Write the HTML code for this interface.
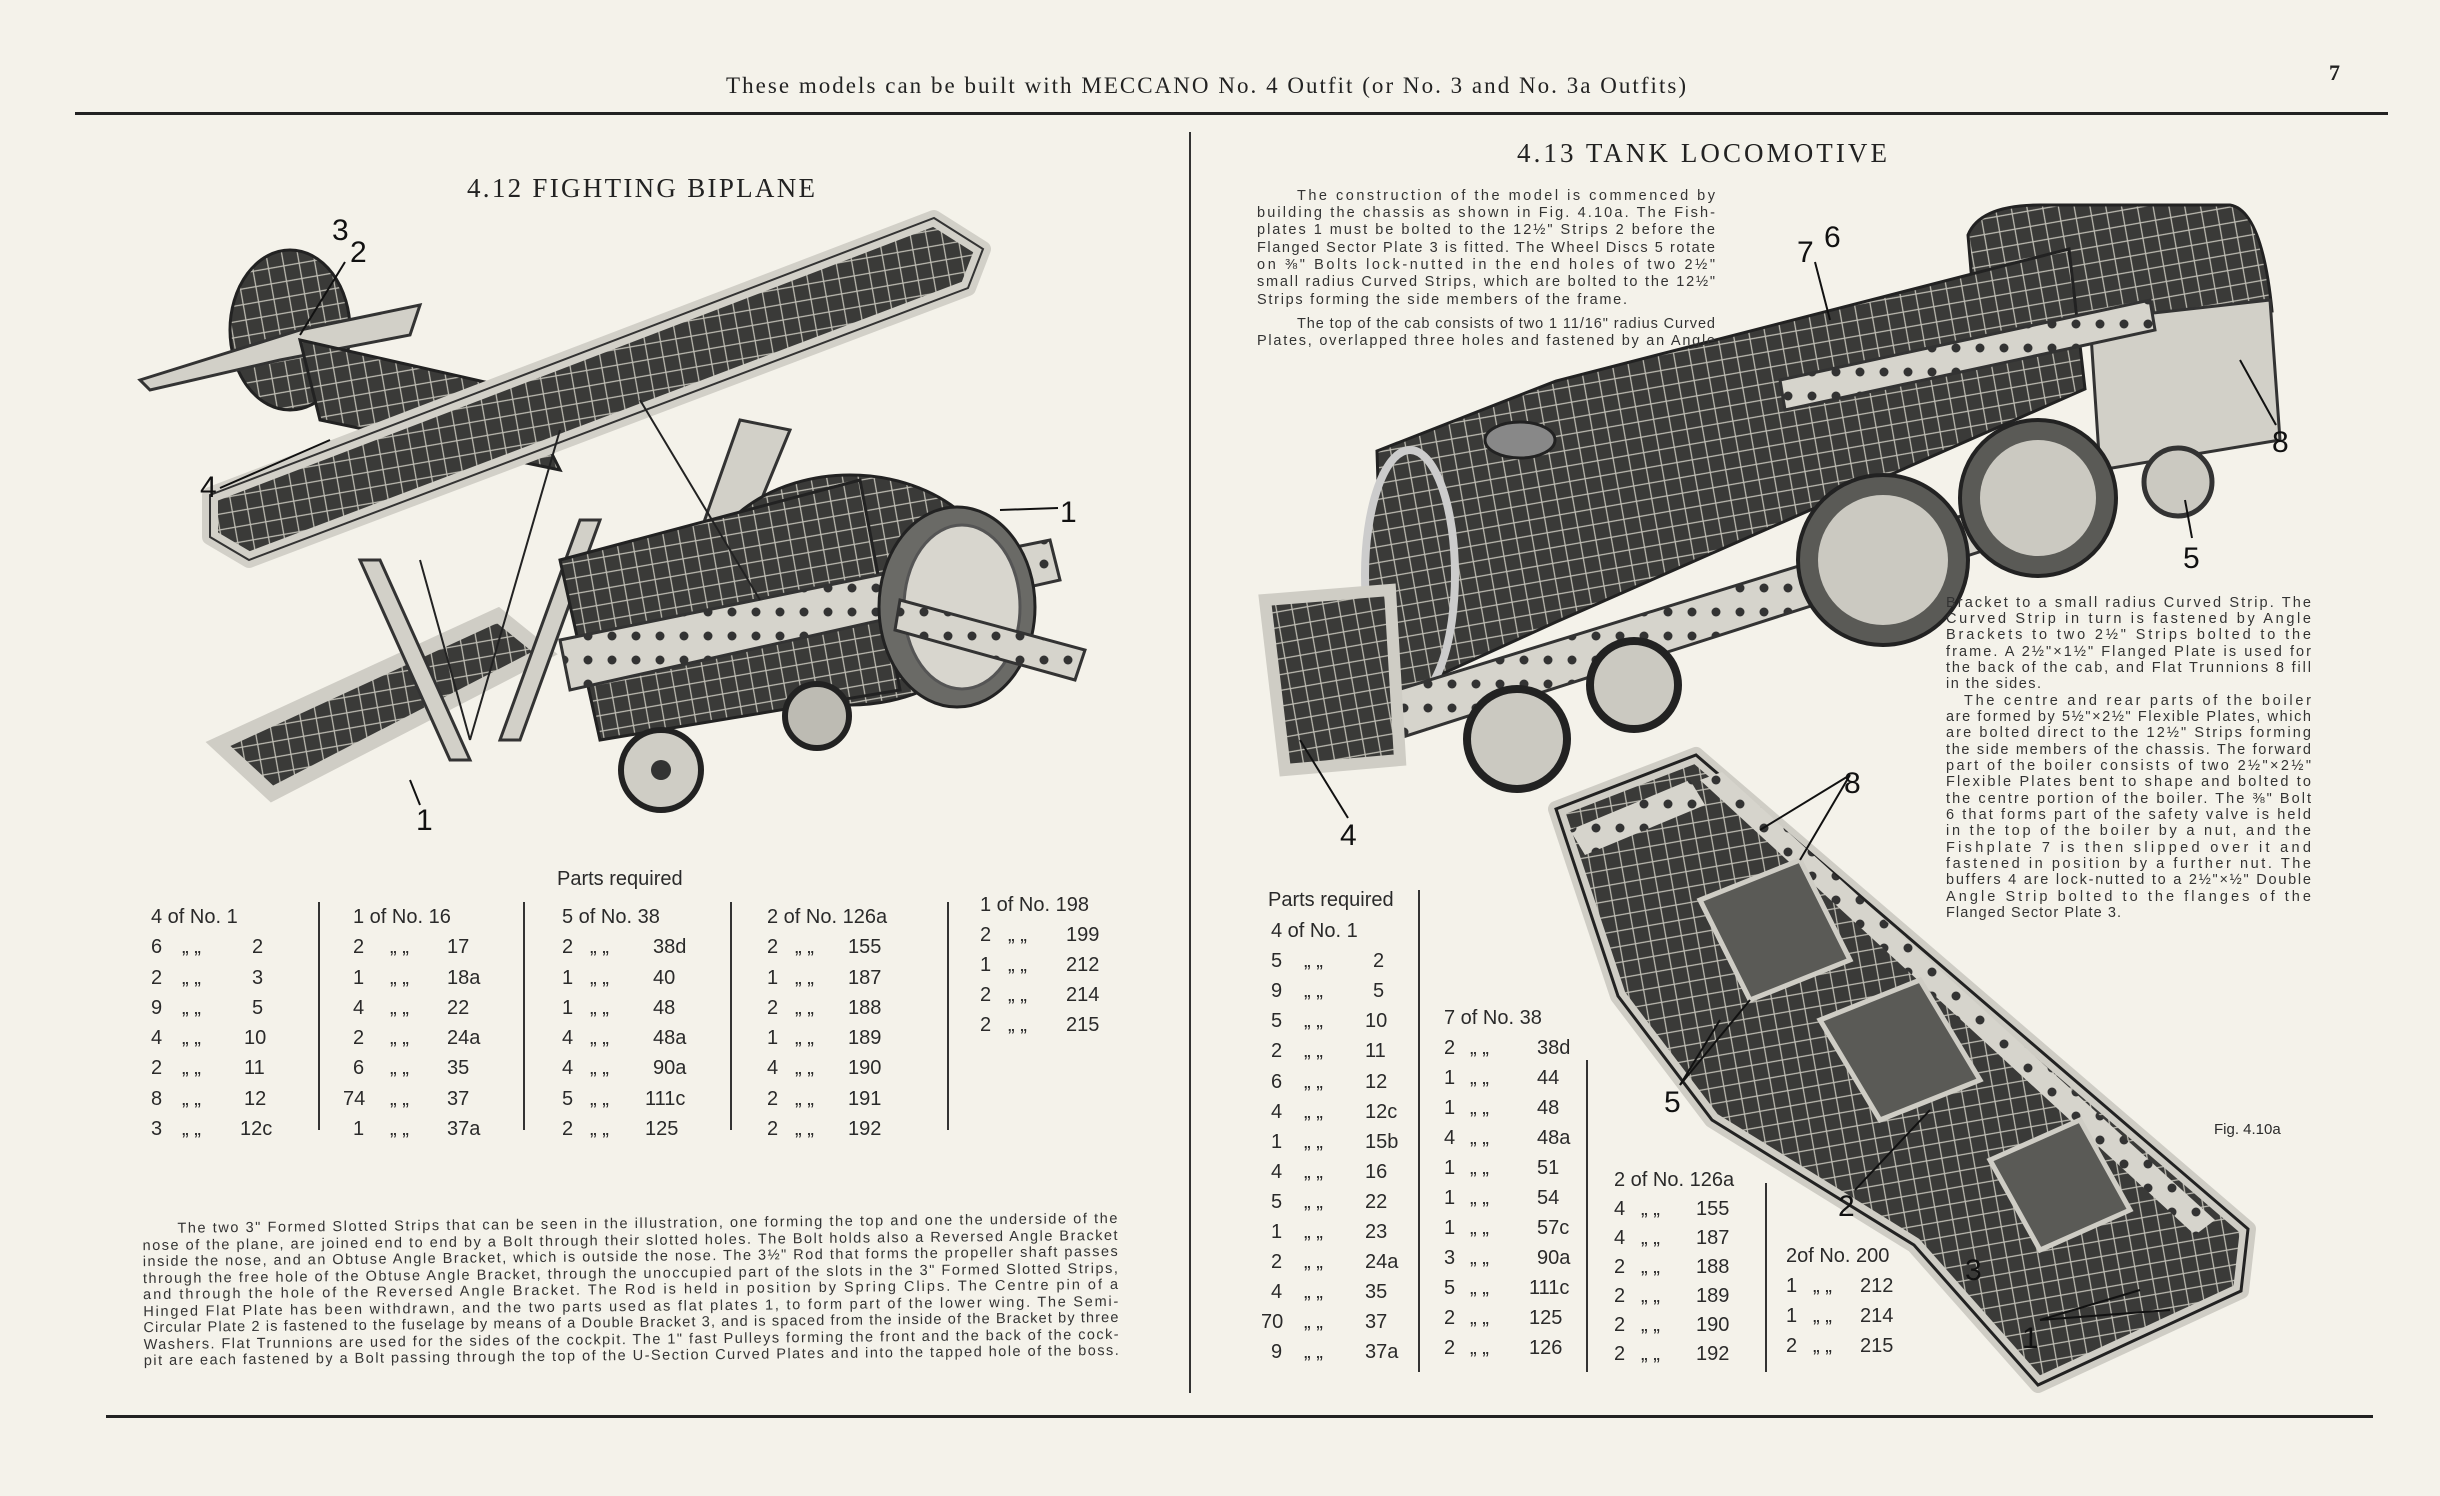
<!DOCTYPE html>
<html><head><meta charset="utf-8">
<style>
html,body{margin:0;padding:0;background:#f4f2ea;}
svg{display:block;}
.s{font-family:"Liberation Sans",sans-serif;fill:#2a2a2a;}
.r{font-family:"Liberation Serif",serif;fill:#222;}
.p{font-family:"Liberation Sans",sans-serif;fill:#333;font-size:14.5px;}
.t{font-family:"Liberation Sans",sans-serif;fill:#2a2a2a;font-size:20px;}
.l{font-family:"Liberation Sans",sans-serif;fill:#111;font-size:30px;}
.dk{fill:url(#hatch);stroke:#222;stroke-width:3;}
.lt{fill:#d2d0c8;stroke:#333;stroke-width:3;}
</style></head><body>
<svg width="2440" height="1496" viewBox="0 0 2440 1496" xmlns="http://www.w3.org/2000/svg">
<defs>
<pattern id="hatch" width="22" height="22" patternUnits="userSpaceOnUse" patternTransform="rotate(35)">
<rect width="22" height="22" fill="#3a3a38"/>
<path d="M0 0L22 22M22 0L0 22" stroke="#bdbbb2" stroke-width="1.3"/>
</pattern>
<pattern id="holes" width="24" height="24" patternUnits="userSpaceOnUse">
<rect width="24" height="24" fill="#d6d4cc"/>
<circle cx="12" cy="12" r="4.5" fill="#333"/>
</pattern>
</defs>
<rect width="2440" height="1496" fill="#f4f2ea"/>

<!-- header -->
<text x="1206" y="93" text-anchor="middle" class="r" font-size="23" textLength="960" lengthAdjust="spacing">These models can be built with MECCANO No. 4 Outfit (or No. 3 and No. 3a Outfits)</text>
<text x="2329" y="80" class="r" font-size="22" font-weight="bold">7</text>
<rect x="75" y="112" width="2313" height="3" fill="#222"/>
<rect x="1189" y="132" width="2" height="1261" fill="#333"/>
<rect x="106" y="1415" width="2267" height="3" fill="#222"/>

<text x="467" y="197" class="r" font-size="27" textLength="348" lengthAdjust="spacing">4.12  FIGHTING BIPLANE</text>
<text x="1517" y="162" class="r" font-size="27" textLength="370" lengthAdjust="spacing">4.13  TANK LOCOMOTIVE</text>

<!-- BIPLANE -->
<ellipse cx="290" cy="330" rx="60" ry="80" class="dk"/>
<polygon points="140,380 300,330 420,305 410,335 280,360 150,390" class="lt" fill="url(#holes)"/>
<polygon points="300,340 520,390 560,470 320,420" class="dk"/>
<polygon points="218,744 498,615 545,653 272,794" class="dk"/>
<polygon points="218,744 498,615 545,653 272,794" fill="none" stroke="#cfcdc5" stroke-width="14"/>
<polygon points="360,560 380,560 470,760 450,760" class="lt"/>
<polygon points="580,520 600,520 520,740 500,740" class="lt"/>
<polygon points="740,420 790,430 720,600 680,590" class="lt"/>
<ellipse cx="850" cy="590" rx="150" ry="115" class="dk"/>
<polygon points="560,560 860,480 900,690 600,740" class="dk"/>
<polygon points="560,640 1050,540 1060,580 570,690" fill="url(#holes)" stroke="#333" stroke-width="3"/>
<ellipse cx="957" cy="607" rx="78" ry="100" fill="#6a6a66" stroke="#222" stroke-width="3"/>
<ellipse cx="962" cy="607" rx="58" ry="82" fill="#d8d6ce" stroke="#555" stroke-width="3"/>
<polygon points="900,600 1085,650 1075,680 895,630" fill="url(#holes)" stroke="#333" stroke-width="3"/>
<polygon points="210,495 934,218 983,249 968,288 249,560 210,537" class="dk"/>
<polygon points="210,495 934,218 983,249 968,288 249,560 210,537" fill="none" stroke="#d2d0c8" stroke-width="16" stroke-linejoin="round"/>
<polygon points="210,495 934,218 983,249 968,288 249,560 210,537" fill="none" stroke="#333" stroke-width="2"/>
<line x1="420" y1="560" x2="470" y2="740" stroke="#222" stroke-width="2"/>
<line x1="560" y1="430" x2="470" y2="740" stroke="#222" stroke-width="2"/>
<line x1="640" y1="400" x2="760" y2="600" stroke="#222" stroke-width="2"/>
<circle cx="661" cy="770" r="40" fill="#cfcdc5" stroke="#222" stroke-width="6"/>
<circle cx="661" cy="770" r="10" fill="#333"/>
<circle cx="817" cy="716" r="32" fill="#bdbbb3" stroke="#222" stroke-width="6"/>
<text x="332" y="240" class="l">3</text><text x="350" y="262" class="l">2</text>
<line x1="345" y1="262" x2="300" y2="335" stroke="#111" stroke-width="2"/>
<text x="200" y="497" class="l">4</text>
<line x1="220" y1="488" x2="330" y2="440" stroke="#111" stroke-width="2"/>
<text x="1060" y="522" class="l">1</text>
<line x1="1058" y1="508" x2="1000" y2="510" stroke="#111" stroke-width="2"/>
<text x="416" y="830" class="l">1</text>
<line x1="420" y1="805" x2="410" y2="780" stroke="#111" stroke-width="2"/>

<!-- LOCO -->
<path d="M1968,235 Q1980,205 2040,205 L2230,205 Q2262,210 2272,311 L1976,330 Z" class="dk"/>
<polygon points="1377,451 1556,381 2069,249 2085,389 1556,622 1385,700" class="dk"/>
<ellipse cx="1410" cy="575" rx="45" ry="125" fill="url(#hatch)" stroke="#ccc" stroke-width="8"/>
<polygon points="2090,320 2270,300 2280,440 2100,470" class="lt" fill="url(#holes)"/>
<polygon points="1780,380 2150,300 2155,330 1785,410" fill="url(#holes)" stroke="#333" stroke-width="3"/>
<polygon points="1300,720 2110,470 2110,510 1300,770" fill="url(#holes)" stroke="#333" stroke-width="3"/>
<polygon points="1265,600 1390,590 1400,760 1285,770" class="dk"/>
<polygon points="1265,600 1390,590 1400,760 1285,770" fill="none" stroke="#cfcdc5" stroke-width="12"/>
<circle cx="1883" cy="560" r="85" fill="#5a5a56" stroke="#222" stroke-width="4"/>
<circle cx="1883" cy="560" r="65" fill="#cbc9c1"/>
<circle cx="2038" cy="498" r="78" fill="#5a5a56" stroke="#222" stroke-width="4"/>
<circle cx="2038" cy="498" r="58" fill="#cbc9c1"/>
<circle cx="1517" cy="739" r="50" fill="#cbc9c1" stroke="#222" stroke-width="8"/>
<circle cx="1634" cy="685" r="44" fill="#cbc9c1" stroke="#222" stroke-width="8"/>
<circle cx="2178" cy="482" r="34" fill="#cbc9c1" stroke="#333" stroke-width="5"/>
<ellipse cx="1520" cy="440" rx="35" ry="18" fill="#888" stroke="#222" stroke-width="3"/>
<text x="1797" y="262" class="l">7</text><text x="1824" y="247" class="l">6</text>
<line x1="1815" y1="262" x2="1830" y2="320" stroke="#111" stroke-width="2"/>
<text x="2272" y="452" class="l">8</text>
<line x1="2276" y1="425" x2="2240" y2="360" stroke="#111" stroke-width="2"/>
<text x="2183" y="568" class="l">5</text>
<line x1="2192" y1="538" x2="2185" y2="500" stroke="#111" stroke-width="2"/>
<text x="1340" y="845" class="l">4</text>
<line x1="1348" y1="818" x2="1300" y2="740" stroke="#111" stroke-width="2"/>

<!-- loco para 1 -->
<g class="p" font-size="14.5">
<text x="1297" y="200" textLength="418" lengthAdjust="spacing">The construction of the model is commenced by</text>
<text x="1257" y="217" textLength="458" lengthAdjust="spacing">building the chassis as shown in Fig. 4.10a. The Fish-</text>
<text x="1257" y="234" textLength="458" lengthAdjust="spacing">plates 1 must be bolted to the 12½" Strips 2 before the</text>
<text x="1257" y="252" textLength="458" lengthAdjust="spacing">Flanged Sector Plate 3 is fitted. The Wheel Discs 5 rotate</text>
<text x="1257" y="269" textLength="458" lengthAdjust="spacing">on ⅜" Bolts lock-nutted in the end holes of two 2½"</text>
<text x="1257" y="286" textLength="458" lengthAdjust="spacing">small radius Curved Strips, which are bolted to the 12½"</text>
<text x="1257" y="304" textLength="370" lengthAdjust="spacing">Strips forming the side members of the frame.</text>
<text x="1297" y="328" textLength="418" lengthAdjust="spacing">The top of the cab consists of two 1 11/16" radius Curved</text>
<text x="1257" y="345" textLength="458" lengthAdjust="spacing">Plates, overlapped three holes and fastened by an Angle</text>
</g>
<!-- right para -->
<g class="p">
<text x="1946" y="607" textLength="365" lengthAdjust="spacing">Bracket to a small radius Curved Strip. The</text>
<text x="1946" y="623" textLength="365" lengthAdjust="spacing">Curved Strip in turn is fastened by Angle</text>
<text x="1946" y="639" textLength="365" lengthAdjust="spacing">Brackets to two 2½" Strips bolted to the</text>
<text x="1946" y="656" textLength="365" lengthAdjust="spacing">frame. A 2½"×1½" Flanged Plate is used for</text>
<text x="1946" y="672" textLength="365" lengthAdjust="spacing">the back of the cab, and Flat Trunnions 8 fill</text>
<text x="1946" y="688" textLength="95" lengthAdjust="spacing">in the sides.</text>
<text x="1964" y="705" textLength="347" lengthAdjust="spacing">The centre and rear parts of the boiler</text>
<text x="1946" y="721" textLength="365" lengthAdjust="spacing">are formed by 5½"×2½" Flexible Plates, which</text>
<text x="1946" y="737" textLength="365" lengthAdjust="spacing">are bolted direct to the 12½" Strips forming</text>
<text x="1946" y="754" textLength="365" lengthAdjust="spacing">the side members of the chassis. The forward</text>
<text x="1946" y="770" textLength="365" lengthAdjust="spacing">part of the boiler consists of two 2½"×2½"</text>
<text x="1946" y="786" textLength="365" lengthAdjust="spacing">Flexible Plates bent to shape and bolted to</text>
<text x="1946" y="803" textLength="365" lengthAdjust="spacing">the centre portion of the boiler. The ⅜" Bolt</text>
<text x="1946" y="819" textLength="365" lengthAdjust="spacing">6 that forms part of the safety valve is held</text>
<text x="1946" y="835" textLength="365" lengthAdjust="spacing">in the top of the boiler by a nut, and the</text>
<text x="1946" y="852" textLength="365" lengthAdjust="spacing">Fishplate 7 is then slipped over it and</text>
<text x="1946" y="868" textLength="365" lengthAdjust="spacing">fastened in position by a further nut. The</text>
<text x="1946" y="884" textLength="365" lengthAdjust="spacing">buffers 4 are lock-nutted to a 2½"×½" Double</text>
<text x="1946" y="901" textLength="365" lengthAdjust="spacing">Angle Strip bolted to the flanges of the</text>
<text x="1946" y="917" textLength="175" lengthAdjust="spacing">Flanged Sector Plate 3.</text>
</g>

<!-- CHASSIS FIG -->
<polygon points="1556,809 1618,996 1712,1120 1914,1245 2038,1385 2241,1291 2248,1229 1696,755" class="dk"/>
<polygon points="1556,809 1618,996 1712,1120 1914,1245 2038,1385 2241,1291 2248,1229 1696,755" fill="none" stroke="#cfcdc5" stroke-width="16" stroke-linejoin="round"/>
<polygon points="1556,809 1618,996 1712,1120 1914,1245 2038,1385 2241,1291 2248,1229 1696,755" fill="none" stroke="#222" stroke-width="3"/>
<polygon points="1570,830 1690,780 1705,805 1585,855" fill="url(#holes)"/>
<polygon points="1700,780 1722,772 2215,1220 2195,1235" fill="url(#holes)"/>
<polygon points="1700,900 1800,860 1850,960 1750,1000" fill="#5a5a56" stroke="#cfcdc5" stroke-width="5"/>
<polygon points="1820,1020 1920,980 1980,1080 1880,1120" fill="#5a5a56" stroke="#cfcdc5" stroke-width="5"/>
<polygon points="1990,1160 2080,1120 2130,1210 2040,1250" fill="#5a5a56" stroke="#cfcdc5" stroke-width="5"/>
<text x="1844" y="793" class="l">8</text>
<line x1="1850" y1="775" x2="1760" y2="830" stroke="#111" stroke-width="2"/>
<line x1="1850" y1="775" x2="1800" y2="860" stroke="#111" stroke-width="2"/>
<text x="1664" y="1112" class="l">5</text>
<line x1="1680" y1="1085" x2="1720" y2="1020" stroke="#111" stroke-width="2"/>
<line x1="1680" y1="1085" x2="1750" y2="1000" stroke="#111" stroke-width="2"/>
<text x="1838" y="1216" class="l">2</text>
<line x1="1855" y1="1190" x2="1930" y2="1110" stroke="#111" stroke-width="2"/>
<text x="1965" y="1280" class="l">3</text>
<text x="2022" y="1348" class="l">1</text>
<line x1="2040" y1="1320" x2="2140" y2="1290" stroke="#111" stroke-width="2"/>
<line x1="2040" y1="1320" x2="2170" y2="1310" stroke="#111" stroke-width="2"/>
<text x="2214" y="1134" class="s" font-size="15">Fig. 4.10a</text>

<!-- BIPLANE PARTS -->
<text x="557" y="885" class="t">Parts required</text>
<g fill="#333"><rect x="318" y="902" width="2" height="228"/><rect x="523" y="902" width="2" height="228"/><rect x="730" y="902" width="2" height="228"/><rect x="947" y="902" width="2" height="228"/></g>
<g class="t">
<text x="151" y="923">4 of No. 1</text>
<text y="953"><tspan x="151">6</tspan><tspan x="182">„ „</tspan><tspan x="252">2</tspan></text>
<text y="984"><tspan x="151">2</tspan><tspan x="182">„ „</tspan><tspan x="252">3</tspan></text>
<text y="1014"><tspan x="151">9</tspan><tspan x="182">„ „</tspan><tspan x="252">5</tspan></text>
<text y="1044"><tspan x="151">4</tspan><tspan x="182">„ „</tspan><tspan x="244">10</tspan></text>
<text y="1074"><tspan x="151">2</tspan><tspan x="182">„ „</tspan><tspan x="244">11</tspan></text>
<text y="1105"><tspan x="151">8</tspan><tspan x="182">„ „</tspan><tspan x="244">12</tspan></text>
<text y="1135"><tspan x="151">3</tspan><tspan x="182">„ „</tspan><tspan x="240">12c</tspan></text>

<text x="353" y="923">1 of No. 16</text>
<text y="953"><tspan x="353">2</tspan><tspan x="390">„ „</tspan><tspan x="447">17</tspan></text>
<text y="984"><tspan x="353">1</tspan><tspan x="390">„ „</tspan><tspan x="447">18a</tspan></text>
<text y="1014"><tspan x="353">4</tspan><tspan x="390">„ „</tspan><tspan x="447">22</tspan></text>
<text y="1044"><tspan x="353">2</tspan><tspan x="390">„ „</tspan><tspan x="447">24a</tspan></text>
<text y="1074"><tspan x="353">6</tspan><tspan x="390">„ „</tspan><tspan x="447">35</tspan></text>
<text y="1105"><tspan x="343">74</tspan><tspan x="390">„ „</tspan><tspan x="447">37</tspan></text>
<text y="1135"><tspan x="353">1</tspan><tspan x="390">„ „</tspan><tspan x="447">37a</tspan></text>

<text x="562" y="923">5 of No. 38</text>
<text y="953"><tspan x="562">2</tspan><tspan x="590">„ „</tspan><tspan x="653">38d</tspan></text>
<text y="984"><tspan x="562">1</tspan><tspan x="590">„ „</tspan><tspan x="653">40</tspan></text>
<text y="1014"><tspan x="562">1</tspan><tspan x="590">„ „</tspan><tspan x="653">48</tspan></text>
<text y="1044"><tspan x="562">4</tspan><tspan x="590">„ „</tspan><tspan x="653">48a</tspan></text>
<text y="1074"><tspan x="562">4</tspan><tspan x="590">„ „</tspan><tspan x="653">90a</tspan></text>
<text y="1105"><tspan x="562">5</tspan><tspan x="590">„ „</tspan><tspan x="645">111c</tspan></text>
<text y="1135"><tspan x="562">2</tspan><tspan x="590">„ „</tspan><tspan x="645">125</tspan></text>

<text x="767" y="923">2 of No. 126a</text>
<text y="953"><tspan x="767">2</tspan><tspan x="795">„ „</tspan><tspan x="848">155</tspan></text>
<text y="984"><tspan x="767">1</tspan><tspan x="795">„ „</tspan><tspan x="848">187</tspan></text>
<text y="1014"><tspan x="767">2</tspan><tspan x="795">„ „</tspan><tspan x="848">188</tspan></text>
<text y="1044"><tspan x="767">1</tspan><tspan x="795">„ „</tspan><tspan x="848">189</tspan></text>
<text y="1074"><tspan x="767">4</tspan><tspan x="795">„ „</tspan><tspan x="848">190</tspan></text>
<text y="1105"><tspan x="767">2</tspan><tspan x="795">„ „</tspan><tspan x="848">191</tspan></text>
<text y="1135"><tspan x="767">2</tspan><tspan x="795">„ „</tspan><tspan x="848">192</tspan></text>

<text x="980" y="911">1 of No. 198</text>
<text y="941"><tspan x="980">2</tspan><tspan x="1008">„ „</tspan><tspan x="1066">199</tspan></text>
<text y="971"><tspan x="980">1</tspan><tspan x="1008">„ „</tspan><tspan x="1066">212</tspan></text>
<text y="1001"><tspan x="980">2</tspan><tspan x="1008">„ „</tspan><tspan x="1066">214</tspan></text>
<text y="1031"><tspan x="980">2</tspan><tspan x="1008">„ „</tspan><tspan x="1066">215</tspan></text>
</g>

<!-- biplane para -->
<g class="p" font-size="15" transform="rotate(-0.6 630 1280)">
<text x="178" y="1228" textLength="940" lengthAdjust="spacing">The two 3" Formed Slotted Strips that can be seen in the illustration, one forming the top and one the underside of the</text>
<text x="143" y="1245" textLength="975" lengthAdjust="spacing">nose of the plane, are joined end to end by a Bolt through their slotted holes. The Bolt holds also a Reversed Angle Bracket</text>
<text x="143" y="1261" textLength="975" lengthAdjust="spacing">inside the nose, and an Obtuse Angle Bracket, which is outside the nose. The 3½" Rod that forms the propeller shaft passes</text>
<text x="143" y="1278" textLength="975" lengthAdjust="spacing">through the free hole of the Obtuse Angle Bracket, through the unoccupied part of the slots in the 3" Formed Slotted Strips,</text>
<text x="143" y="1294" textLength="975" lengthAdjust="spacing">and through the hole of the Reversed Angle Bracket. The Rod is held in position by Spring Clips. The Centre pin of a</text>
<text x="143" y="1311" textLength="975" lengthAdjust="spacing">Hinged Flat Plate has been withdrawn, and the two parts used as flat plates 1, to form part of the lower wing. The Semi-</text>
<text x="143" y="1327" textLength="975" lengthAdjust="spacing">Circular Plate 2 is fastened to the fuselage by means of a Double Bracket 3, and is spaced from the inside of the Bracket by three</text>
<text x="143" y="1344" textLength="975" lengthAdjust="spacing">Washers. Flat Trunnions are used for the sides of the cockpit. The 1" fast Pulleys forming the front and the back of the cock-</text>
<text x="143" y="1360" textLength="975" lengthAdjust="spacing">pit are each fastened by a Bolt passing through the top of the U-Section Curved Plates and into the tapped hole of the boss.</text>
</g>

<!-- LOCO PARTS -->
<text x="1268" y="906" class="t">Parts required</text>
<g fill="#333"><rect x="1418" y="890" width="2" height="482"/><rect x="1586" y="1060" width="2" height="312"/><rect x="1765" y="1183" width="2" height="189"/></g>
<g class="t">
<text x="1271" y="937">4 of No. 1</text>
<text y="967"><tspan x="1271">5</tspan><tspan x="1304">„ „</tspan><tspan x="1373">2</tspan></text>
<text y="997"><tspan x="1271">9</tspan><tspan x="1304">„ „</tspan><tspan x="1373">5</tspan></text>
<text y="1027"><tspan x="1271">5</tspan><tspan x="1304">„ „</tspan><tspan x="1365">10</tspan></text>
<text y="1057"><tspan x="1271">2</tspan><tspan x="1304">„ „</tspan><tspan x="1365">11</tspan></text>
<text y="1088"><tspan x="1271">6</tspan><tspan x="1304">„ „</tspan><tspan x="1365">12</tspan></text>
<text y="1118"><tspan x="1271">4</tspan><tspan x="1304">„ „</tspan><tspan x="1365">12c</tspan></text>
<text y="1148"><tspan x="1271">1</tspan><tspan x="1304">„ „</tspan><tspan x="1365">15b</tspan></text>
<text y="1178"><tspan x="1271">4</tspan><tspan x="1304">„ „</tspan><tspan x="1365">16</tspan></text>
<text y="1208"><tspan x="1271">5</tspan><tspan x="1304">„ „</tspan><tspan x="1365">22</tspan></text>
<text y="1238"><tspan x="1271">1</tspan><tspan x="1304">„ „</tspan><tspan x="1365">23</tspan></text>
<text y="1268"><tspan x="1271">2</tspan><tspan x="1304">„ „</tspan><tspan x="1365">24a</tspan></text>
<text y="1298"><tspan x="1271">4</tspan><tspan x="1304">„ „</tspan><tspan x="1365">35</tspan></text>
<text y="1328"><tspan x="1261">70</tspan><tspan x="1304">„ „</tspan><tspan x="1365">37</tspan></text>
<text y="1358"><tspan x="1271">9</tspan><tspan x="1304">„ „</tspan><tspan x="1365">37a</tspan></text>

<text x="1444" y="1024">7 of No. 38</text>
<text y="1054"><tspan x="1444">2</tspan><tspan x="1470">„ „</tspan><tspan x="1537">38d</tspan></text>
<text y="1084"><tspan x="1444">1</tspan><tspan x="1470">„ „</tspan><tspan x="1537">44</tspan></text>
<text y="1114"><tspan x="1444">1</tspan><tspan x="1470">„ „</tspan><tspan x="1537">48</tspan></text>
<text y="1144"><tspan x="1444">4</tspan><tspan x="1470">„ „</tspan><tspan x="1537">48a</tspan></text>
<text y="1174"><tspan x="1444">1</tspan><tspan x="1470">„ „</tspan><tspan x="1537">51</tspan></text>
<text y="1204"><tspan x="1444">1</tspan><tspan x="1470">„ „</tspan><tspan x="1537">54</tspan></text>
<text y="1234"><tspan x="1444">1</tspan><tspan x="1470">„ „</tspan><tspan x="1537">57c</tspan></text>
<text y="1264"><tspan x="1444">3</tspan><tspan x="1470">„ „</tspan><tspan x="1537">90a</tspan></text>
<text y="1294"><tspan x="1444">5</tspan><tspan x="1470">„ „</tspan><tspan x="1529">111c</tspan></text>
<text y="1324"><tspan x="1444">2</tspan><tspan x="1470">„ „</tspan><tspan x="1529">125</tspan></text>
<text y="1354"><tspan x="1444">2</tspan><tspan x="1470">„ „</tspan><tspan x="1529">126</tspan></text>

<text x="1614" y="1186">2 of No. 126a</text>
<text y="1215"><tspan x="1614">4</tspan><tspan x="1641">„ „</tspan><tspan x="1696">155</tspan></text>
<text y="1244"><tspan x="1614">4</tspan><tspan x="1641">„ „</tspan><tspan x="1696">187</tspan></text>
<text y="1273"><tspan x="1614">2</tspan><tspan x="1641">„ „</tspan><tspan x="1696">188</tspan></text>
<text y="1302"><tspan x="1614">2</tspan><tspan x="1641">„ „</tspan><tspan x="1696">189</tspan></text>
<text y="1331"><tspan x="1614">2</tspan><tspan x="1641">„ „</tspan><tspan x="1696">190</tspan></text>
<text y="1360"><tspan x="1614">2</tspan><tspan x="1641">„ „</tspan><tspan x="1696">192</tspan></text>

<text x="1786" y="1262">2of No. 200</text>
<text y="1292"><tspan x="1786">1</tspan><tspan x="1813">„ „</tspan><tspan x="1860">212</tspan></text>
<text y="1322"><tspan x="1786">1</tspan><tspan x="1813">„ „</tspan><tspan x="1860">214</tspan></text>
<text y="1352"><tspan x="1786">2</tspan><tspan x="1813">„ „</tspan><tspan x="1860">215</tspan></text>
</g>
</svg>
</body></html>
